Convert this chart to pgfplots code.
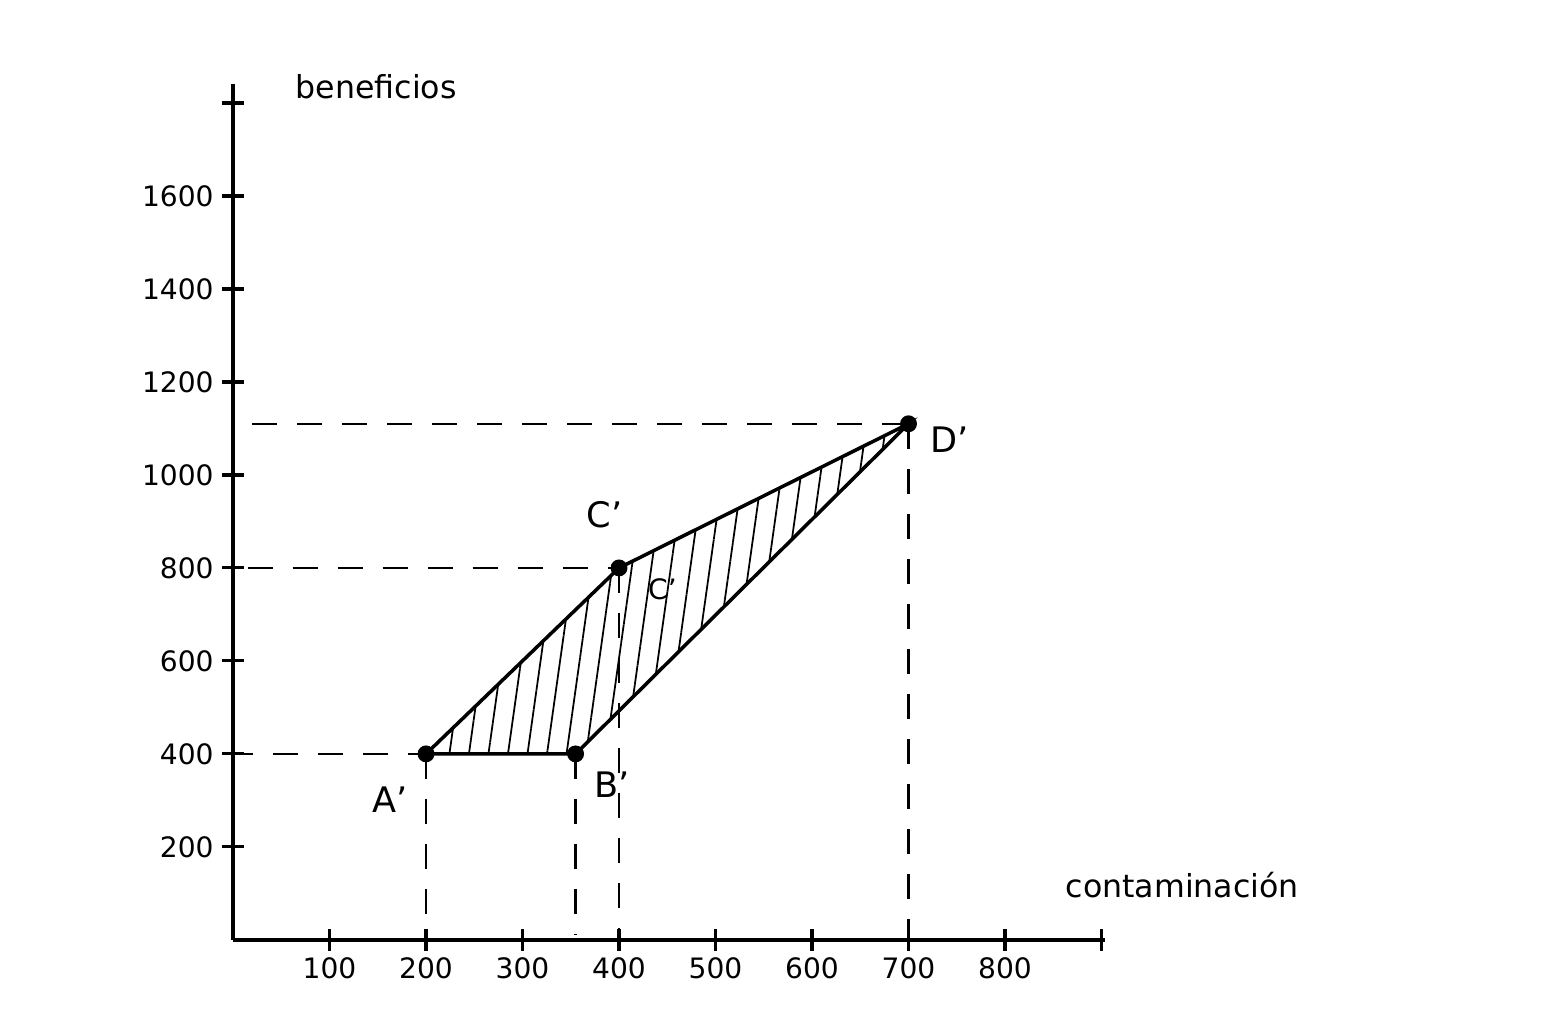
\documentclass[border=0pt]{standalone}
\usepackage{fontspec}
\setmainfont{DejaVu Sans}
\usepackage{pgfplots}
\pgfplotsset{compat=1.18}
\usetikzlibrary{patterns.meta}
\begin{document}
\begin{tikzpicture}
\begin{axis}[
  x=0.0965mm, y=0.0465mm,
  xmin=0, xmax=904, ymin=0, ymax=1840,
  axis x line=bottom, axis y line=left,
  axis line style={-, line width=1pt},
  clip=false,
  xtick={100,200,...,800}, ytick={200,400,...,1600},
  extra x ticks={900}, extra x tick labels={},
  extra y ticks={1800}, extra y tick labels={},
  tick align=center, major tick length=2.2mm,
  tick style={line width=0.9pt, black},
  /pgf/number format/assume math mode=true,
  /pgf/number format/1000 sep={},
  tick label style={font=\fontsize{8}{10}\selectfont},
  xticklabel style={yshift=0.6mm},
  yticklabel style={xshift=0.4mm},
]
% invisible frame giving the picture its size
\path (axis cs:-241.5,-204) rectangle (axis cs:1357.5,2021.5);
% dashed guides
\addplot[dashed, dash pattern=on 2.5mm off 2mm, line width=0.7pt] coordinates {(20,1110) (700,1110)};
\addplot[dashed, dash pattern=on 2.5mm off 2mm, line width=0.7pt] coordinates {(15,800) (400,800)};
\addplot[dashed, dash pattern=on 2.5mm off 2mm, line width=0.7pt] coordinates {(-5,400) (200,400)};
\addplot[dashed, dash pattern=on 2.5mm off 2mm, line width=0.7pt] coordinates {(200,400) (200,10)};
\addplot[dashed, dash pattern=on 2.5mm off 2mm, line width=0.7pt] coordinates {(355,400) (355,10)};
\addplot[dashed, dash pattern=on 2.5mm off 2mm, line width=0.7pt] coordinates {(400,800) (400,10)};
\addplot[dashed, dash pattern=on 2.5mm off 2mm, line width=0.7pt] coordinates {(700,1110) (700,10)};
% hatched region
\addplot[draw=black, line width=1pt, pattern={Lines[angle=82,distance=5.5pt,line width=0.5pt]}]
  coordinates {(200,400) (355,400) (700,1110) (400,800)} -- cycle;
% points
\addplot[only marks, mark=*, mark size=2.2pt, black] coordinates {(200,400) (355,400) (400,800) (700,1110)};
% labels
\node[font=\fontsize{10}{12}\selectfont] at (axis cs:163,301) {A'};
\node[font=\fontsize{10}{12}\selectfont] at (axis cs:393,333) {B'};
\node[font=\fontsize{10}{12}\selectfont] at (axis cs:385,914) {C'};
\node[font=\fontsize{10}{12}\selectfont] at (axis cs:743,1075) {D'};
\node[font=\fontsize{8}{10}\selectfont] at (axis cs:445,753) {C'};
\node[anchor=west, font=\fontsize{9}{11}\selectfont] at (axis cs:52,1835) {beneficios};
\node[anchor=west, font=\fontsize{9}{11}\selectfont] at (axis cs:850,118) {contaminación};
\end{axis}
\end{tikzpicture}
\end{document}
